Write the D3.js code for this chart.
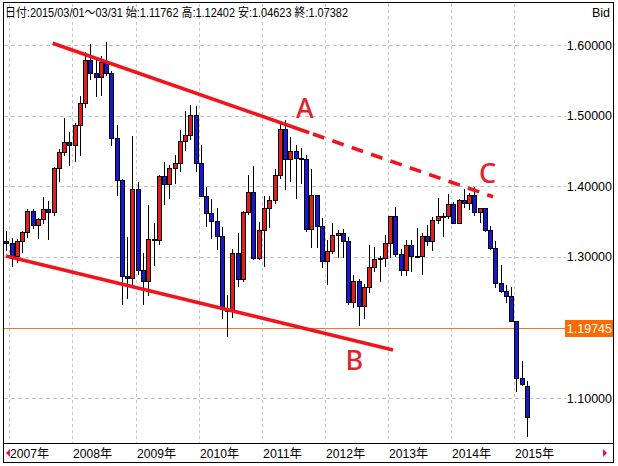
<!DOCTYPE html>
<html><head><meta charset="utf-8">
<script src="https://cdn.jsdelivr.net/npm/d3@7/dist/d3.min.js"></script>
<style>body{margin:0;background:#fff}svg{display:block}</style>
</head><body><svg id="c" width="618" height="466"></svg>
<script>
// ---- DATA (EUR/USD monthly, Bid) ----
const months = [
"2006/12",
"2007/01","2007/02","2007/03","2007/04","2007/05","2007/06","2007/07","2007/08","2007/09","2007/10","2007/11","2007/12",
"2008/01","2008/02","2008/03","2008/04","2008/05","2008/06","2008/07","2008/08","2008/09","2008/10","2008/11","2008/12",
"2009/01","2009/02","2009/03","2009/04","2009/05","2009/06","2009/07","2009/08","2009/09","2009/10","2009/11","2009/12",
"2010/01","2010/02","2010/03","2010/04","2010/05","2010/06","2010/07","2010/08","2010/09","2010/10","2010/11","2010/12",
"2011/01","2011/02","2011/03","2011/04","2011/05","2011/06","2011/07","2011/08","2011/09","2011/10","2011/11","2011/12",
"2012/01","2012/02","2012/03","2012/04","2012/05","2012/06","2012/07","2012/08","2012/09","2012/10","2012/11","2012/12",
"2013/01","2013/02","2013/03","2013/04","2013/05","2013/06","2013/07","2013/08","2013/09","2013/10","2013/11","2013/12",
"2014/01","2014/02","2014/03","2014/04","2014/05","2014/06","2014/07","2014/08","2014/09","2014/10","2014/11","2014/12",
"2015/01","2015/02","2015/03"];
const open = [
1.3230,
1.3197,1.3020,1.3228,1.3354,1.3651,1.3452,1.3539,1.3677,1.3634,1.4260,1.4485,1.4624,
1.4590,1.4863,1.5184,1.5787,1.5597,1.5552,1.5757,1.5603,1.4678,1.4088,1.2733,1.2699,
1.3969,1.2810,1.2662,1.3250,1.3236,1.4150,1.4033,1.4255,1.4332,1.4640,1.4723,1.5004,
1.4330,1.3865,1.3627,1.3509,1.3292,1.2270,1.2237,1.3052,1.2693,1.3632,1.3924,1.2984,
1.3380,1.3693,1.3806,1.4158,1.4806,1.4393,1.4500,1.4394,1.4386,1.3392,1.3874,1.3441,
1.2950,1.3078,1.3318,1.3339,1.3232,1.2358,1.2665,1.2303,1.2575,1.2860,1.2977,1.2986,
1.3193,1.3578,1.3049,1.2818,1.3167,1.3008,1.3010,1.3301,1.3222,1.3525,1.3583,1.3587,
1.3745,1.3485,1.3803,1.3770,1.3872,1.3635,1.3690,1.3388,1.3131,1.2629,1.2525,1.2450,
1.2099,1.1290,1.11762];
const high = [
1.3367,
1.3270,1.3261,1.3365,1.3682,1.3683,1.3548,1.3852,1.3786,1.4280,1.4527,1.4967,1.4770,
1.4901,1.5273,1.5905,1.6019,1.5819,1.5845,1.6038,1.5629,1.4867,1.4109,1.3287,1.4719,
1.4066,1.3052,1.3739,1.3483,1.4165,1.4338,1.4305,1.4446,1.4795,1.5061,1.5144,1.5133,
1.4579,1.3988,1.3819,1.3690,1.3422,1.2469,1.3107,1.3334,1.3650,1.4158,1.4282,1.3502,
1.3862,1.3861,1.4250,1.4882,1.4939,1.4698,1.4578,1.4549,1.4448,1.4247,1.3876,1.3549,
1.3234,1.3487,1.3385,1.3390,1.3284,1.2748,1.2692,1.2624,1.3172,1.3139,1.3014,1.3308,
1.3587,1.3711,1.3110,1.3243,1.3242,1.3416,1.3346,1.3451,1.3568,1.3832,1.3620,1.3893,
1.3775,1.3824,1.3967,1.3904,1.3993,1.3700,1.3700,1.3443,1.3221,1.2887,1.2601,1.2570,
1.2100,1.1534,1.12402];
const low = [
1.3094,
1.2866,1.2934,1.3076,1.3286,1.3417,1.3266,1.3476,1.3260,1.3593,1.4078,1.4438,1.4301,
1.4364,1.4442,1.5124,1.5522,1.5284,1.5286,1.5581,1.4578,1.3881,1.2330,1.2422,1.2578,
1.2754,1.2332,1.2455,1.2886,1.3177,1.3750,1.3834,1.4048,1.4215,1.4508,1.4672,1.4219,
1.3858,1.3443,1.3267,1.3115,1.2142,1.1876,1.2152,1.2587,1.2662,1.3615,1.2969,1.2971,
1.2867,1.3427,1.3760,1.4112,1.3968,1.4071,1.3838,1.4050,1.3361,1.3146,1.3147,1.2858,
1.2624,1.3058,1.3004,1.3005,1.2332,1.2288,1.2041,1.2132,1.2502,1.2802,1.2661,1.2877,
1.3000,1.3018,1.2750,1.2745,1.2796,1.2995,1.2753,1.3172,1.3103,1.3477,1.3296,1.3548,
1.3478,1.3478,1.3706,1.3672,1.3588,1.3502,1.3366,1.3115,1.2571,1.2500,1.2358,1.2099,
1.1098,1.1187,1.04623];
const close = [
1.3197,
1.3020,1.3228,1.3354,1.3651,1.3452,1.3539,1.3677,1.3634,1.4260,1.4485,1.4624,1.4590,
1.4863,1.5184,1.5787,1.5597,1.5552,1.5757,1.5603,1.4678,1.4088,1.2733,1.2699,1.3969,
1.2810,1.2662,1.3250,1.3236,1.4150,1.4033,1.4255,1.4332,1.4640,1.4723,1.5004,1.4330,
1.3865,1.3627,1.3509,1.3292,1.2270,1.2237,1.3052,1.2693,1.3632,1.3924,1.2984,1.3380,
1.3693,1.3806,1.4158,1.4806,1.4393,1.4500,1.4394,1.4386,1.3392,1.3874,1.3441,1.2950,
1.3078,1.3318,1.3339,1.3232,1.2358,1.2665,1.2303,1.2575,1.2860,1.2977,1.2986,1.3193,
1.3578,1.3049,1.2818,1.3167,1.3008,1.3010,1.3301,1.3222,1.3525,1.3583,1.3587,1.3745,
1.3485,1.3803,1.3770,1.3872,1.3635,1.3690,1.3388,1.3131,1.2629,1.2525,1.2450,1.2101,
1.1290,1.1196,1.07382];

const yearLabels = ["2007年","2008年","2009年","2010年","2011年","2012年","2013年","2014年","2015年"];
const yearMonths = ["2007/01","2008/01","2009/01","2010/01","2011/01","2012/01","2013/01","2014/01","2015/01"];
const priceTicks = [1.1, 1.3, 1.4, 1.5, 1.6];
const priceTickLabels = ["1.10000", "1.30000", "1.40000", "1.50000", "1.60000"];
const currentPrice = 1.19745;
const currentPriceLabel = "1.19745";
const headerText = "日付:2015/03/01～03/31 始:1.11762 高:1.12402 安:1.04623 終:1.07382";
const sideText = "Bid";
// trend lines: [monthIndex, price]
const lineA = [[8.83, 1.6024], [92.54, 1.3853]];
const lineASolidEnd = 57.6;   // month index where line A turns dashed
const lineB = [[-0.05, 1.3014], [73.53, 1.1684]];
const notes = [
  {t: "A", i: 56.75, p: 1.4967},
  {t: "B", i: 66.2, p: 1.1400},
  {t: "C", i: 91.5, p: 1.4047}
];

// ---- DRAW ----
const svg = d3.select("#c");
const W = 618, H = 466;
const plotL = 4, plotR = 613, plotT = 4, plotB = 443, gridR = 566;

const idx = d3.scaleLinear().domain([0, months.length - 1]).range([6.24, 6.24 + 5.26 * (months.length - 1)]);
const y = d3.scaleLinear().domain([1.1, 1.6]).range([398.3, 45]);

svg.append("rect").attr("width", W).attr("height", H).attr("fill", "#fff");

svg.append("clipPath").attr("id", "clip").append("rect")
  .attr("x", plotL).attr("y", plotT).attr("width", plotR - plotL).attr("height", plotB - plotT);
const g = svg.append("g").attr("clip-path", "url(#clip)");

const gridColor = "#c4c4c4";
yearMonths.forEach(m => {
  const xx = Math.round(idx(months.indexOf(m)) - 2.2) + 0.5;
  g.append("line").attr("x1", xx).attr("x2", xx).attr("y1", plotT).attr("y2", plotB)
    .attr("stroke", gridColor).attr("stroke-dasharray", "3,3");
});
priceTicks.forEach(v => {
  const yy = Math.round(y(v)) + 0.5;
  g.append("line").attr("x1", plotL).attr("x2", gridR).attr("y1", yy).attr("y2", yy)
    .attr("stroke", gridColor).attr("stroke-dasharray", "4,3");
});

// current price line
const cpY = Math.round(y(currentPrice)) - 0.5;
g.append("line").attr("x1", plotL).attr("x2", plotR).attr("y1", cpY).attr("y2", cpY)
  .attr("stroke", "#f5732f").attr("stroke-width", 1.2);

// candles
const data = months.map((m, i) => ({m, i, o: open[i], h: high[i], l: low[i], c: close[i]}));
const cg = g.append("g");
data.forEach(d => {
  const bx = Math.round(idx(d.i) - 2) + 0.5;
  const cx = bx + 2;
  cg.append("line").attr("x1", cx).attr("x2", cx).attr("y1", Math.round(y(d.h))).attr("y2", Math.round(y(d.l)) + 1)
    .attr("stroke", "#000").attr("stroke-width", 1);
  const top = Math.round(y(Math.max(d.o, d.c))) + 0.5;
  const bot = Math.round(y(Math.min(d.o, d.c))) + 0.5;
  const up = d.c >= d.o;
  cg.append("rect").attr("x", bx).attr("y", top).attr("width", 4).attr("height", Math.max(bot - top, 1))
    .attr("fill", up ? "#e41c1c" : "#1818d0").attr("stroke", "#000").attr("stroke-width", 1);
});

// trend lines
const red = "#f0151d";
const lineGen = d3.line().x(d => idx(d[0])).y(d => y(d[1]));
const tA = (lineASolidEnd - lineA[0][0]) / (lineA[1][0] - lineA[0][0]);
const breakA = [lineASolidEnd, lineA[0][1] + tA * (lineA[1][1] - lineA[0][1])];
g.append("path").attr("d", lineGen([lineA[0], breakA])).attr("stroke", red).attr("stroke-width", 3.6).attr("fill", "none");
g.append("path").attr("d", lineGen([breakA, lineA[1]])).attr("stroke", red).attr("stroke-width", 3.6).attr("fill", "none")
  .attr("stroke-dasharray", "12,8.5").attr("stroke-dashoffset", -4);
g.append("path").attr("d", lineGen(lineB)).attr("stroke", red).attr("stroke-width", 3.6).attr("fill", "none");

notes.forEach(n => {
  g.append("text").attr("x", idx(n.i)).attr("y", y(n.p)).attr("text-anchor", "middle")
    .attr("font-family", "'Noto Sans', 'Open Sans', sans-serif").attr("font-size", 27).attr("font-weight", 500)
    .attr("fill", "#e5212b").text(n.t);
});

// right axis labels
const fontAxis = "'Liberation Sans', Arial, 'Noto Sans CJK JP', sans-serif";
priceTicks.forEach((v, k) => {
  svg.append("text").attr("x", 612).attr("y", y(v)).attr("dy", "0.36em").attr("text-anchor", "end")
    .attr("font-family", fontAxis).attr("font-size", 12.5).attr("fill", "#000").text(priceTickLabels[k]);
});
// current price label
svg.append("rect").attr("x", 565).attr("y", cpY - 8.5).attr("width", 48).attr("height", 17).attr("fill", "#ff6a00");
svg.append("text").attr("x", 612).attr("y", cpY).attr("dy", "0.36em").attr("text-anchor", "end")
  .attr("font-family", fontAxis).attr("font-size", 12.5).attr("fill", "#fff").text(currentPriceLabel);

// header
svg.append("text").attr("x", 5).attr("y", 17).attr("font-family", fontAxis).attr("font-size", 12.5)
  .attr("textLength", 343).attr("lengthAdjust", "spacingAndGlyphs").attr("fill", "#000").text(headerText);
svg.append("text").attr("x", 610).attr("y", 17).attr("text-anchor", "end").attr("font-family", fontAxis)
  .attr("font-size", 12.5).attr("fill", "#000").text(sideText);

// bottom axis
svg.append("line").attr("x1", 3).attr("x2", 614).attr("y1", plotB + 0.5).attr("y2", plotB + 0.5).attr("stroke", "#000");
yearMonths.forEach((m, k) => {
  const xx = Math.round(idx(months.indexOf(m)) - 2.2) + 1;
  svg.append("text").attr("x", xx).attr("y", 458).attr("font-family", fontAxis).attr("font-size", 12.5)
    .attr("textLength", 39).attr("lengthAdjust", "spacingAndGlyphs").attr("fill", "#000").text(yearLabels[k]);
});
svg.append("path").attr("d", "M6,453L10,449L10,457Z").attr("fill", "#e0105a");
svg.append("path").attr("d", "M607,453L603,449L603,457Z").attr("fill", "#e0105a");

// border
svg.append("rect").attr("x", 3.5).attr("y", 2.5).attr("width", 610).attr("height", 460)
  .attr("fill", "none").attr("stroke", "#000");
</script></body></html>
